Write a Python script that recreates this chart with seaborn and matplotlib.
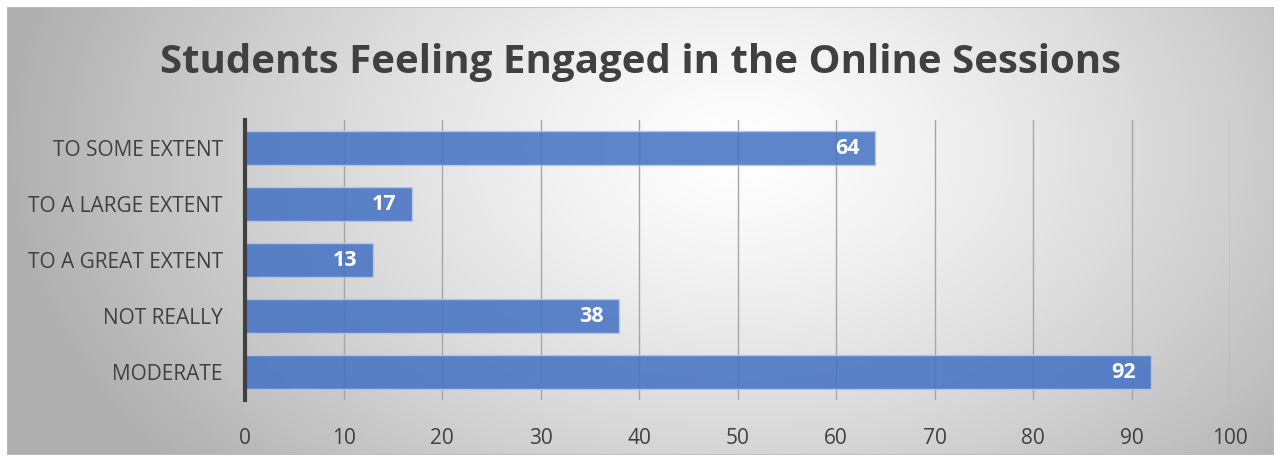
import numpy as np
import pandas as pd
import matplotlib
matplotlib.use("Agg")
import matplotlib.pyplot as plt
import seaborn as sns

categories = ["TO SOME EXTENT", "TO A LARGE EXTENT", "TO A GREAT EXTENT", "NOT REALLY", "MODERATE"]
values = [64, 17, 13, 38, 92]
x_ticks = [0, 10, 20, 30, 40, 50, 60, 70, 80, 90, 100]
title = "Students Feeling Engaged in the Online Sessions"

df = pd.DataFrame({"category": categories, "count": values})

sns.set_theme(style="white")
plt.rcParams["font.family"] = ["Open Sans", "DejaVu Sans"]

W, H = 1274, 459
fig = plt.figure(figsize=(W / 100, H / 100), dpi=100)
fig.patch.set_facecolor("white")

# radial gradient panel behind the chart
px0, py0, px1, py1 = 7, 7, 1274, 455
bg = fig.add_axes([px0 / W, 1 - py1 / H, (px1 - px0) / W, (py1 - py0) / H])
gx = np.arange(px0, px1)
gy = np.arange(py0, py1)
XX, YY = np.meshgrid(gx, gy)
cx, cy = 740, 150
r = np.sqrt(((XX - cx) / 620.0) ** 2 + ((YY - cy) / 420.0) ** 2)
shade = 1.0 - 0.25 * np.clip(r, 0, 1.2) ** 1.3
bg.imshow(np.dstack([shade] * 3), aspect="auto", interpolation="bilinear",
          extent=(0, 1, 0, 1))
bg.set_axis_off()
bg.add_patch(plt.Rectangle((0, 0), 1, 1, transform=bg.transAxes, fill=False,
                           edgecolor="#bdbdbd", linewidth=1.2))

# chart axes
ax = fig.add_axes([245 / W, 1 - 400 / H, (1230 - 245) / W, (400 - 120) / H])
ax.set_facecolor("none")

sns.barplot(data=df, x="count", y="category", orient="h", ax=ax,
            color="#4472C4", saturation=1, alpha=0.86, width=0.59,
            edgecolor="#b7c8ea", linewidth=1.0, zorder=3)

ax.set_xlim(0, 100)
ax.set_ylim(4.5, -0.5)
ax.set_xticks(x_ticks)
ax.set_xticklabels([str(t) for t in x_ticks], fontsize=15, color="#404040")
ax.tick_params(axis="x", length=0, pad=20)
ax.tick_params(axis="y", length=0, pad=16, labelsize=15, labelcolor="#404040")
ax.set_xlabel("")
ax.set_ylabel("")

ax.grid(axis="x", color="#a6a6a6", linewidth=1.0, zorder=0)
ax.set_axisbelow(True)
for side in ("top", "right", "bottom"):
    ax.spines[side].set_visible(False)
ax.spines["left"].set_color("#404040")
ax.spines["left"].set_linewidth(3)
ax.spines["left"].set_zorder(5)

for i, v in enumerate(values):
    ax.text(v - 1.6, i, str(v), ha="right", va="center", color="white",
            fontsize=15.5, fontweight="bold", zorder=6)

fig.text(641 / W, 1 - 62 / H, title, ha="center", va="center",
         fontsize=29, fontweight="bold", color="#404040")

fig.savefig("out.png", dpi=100)
